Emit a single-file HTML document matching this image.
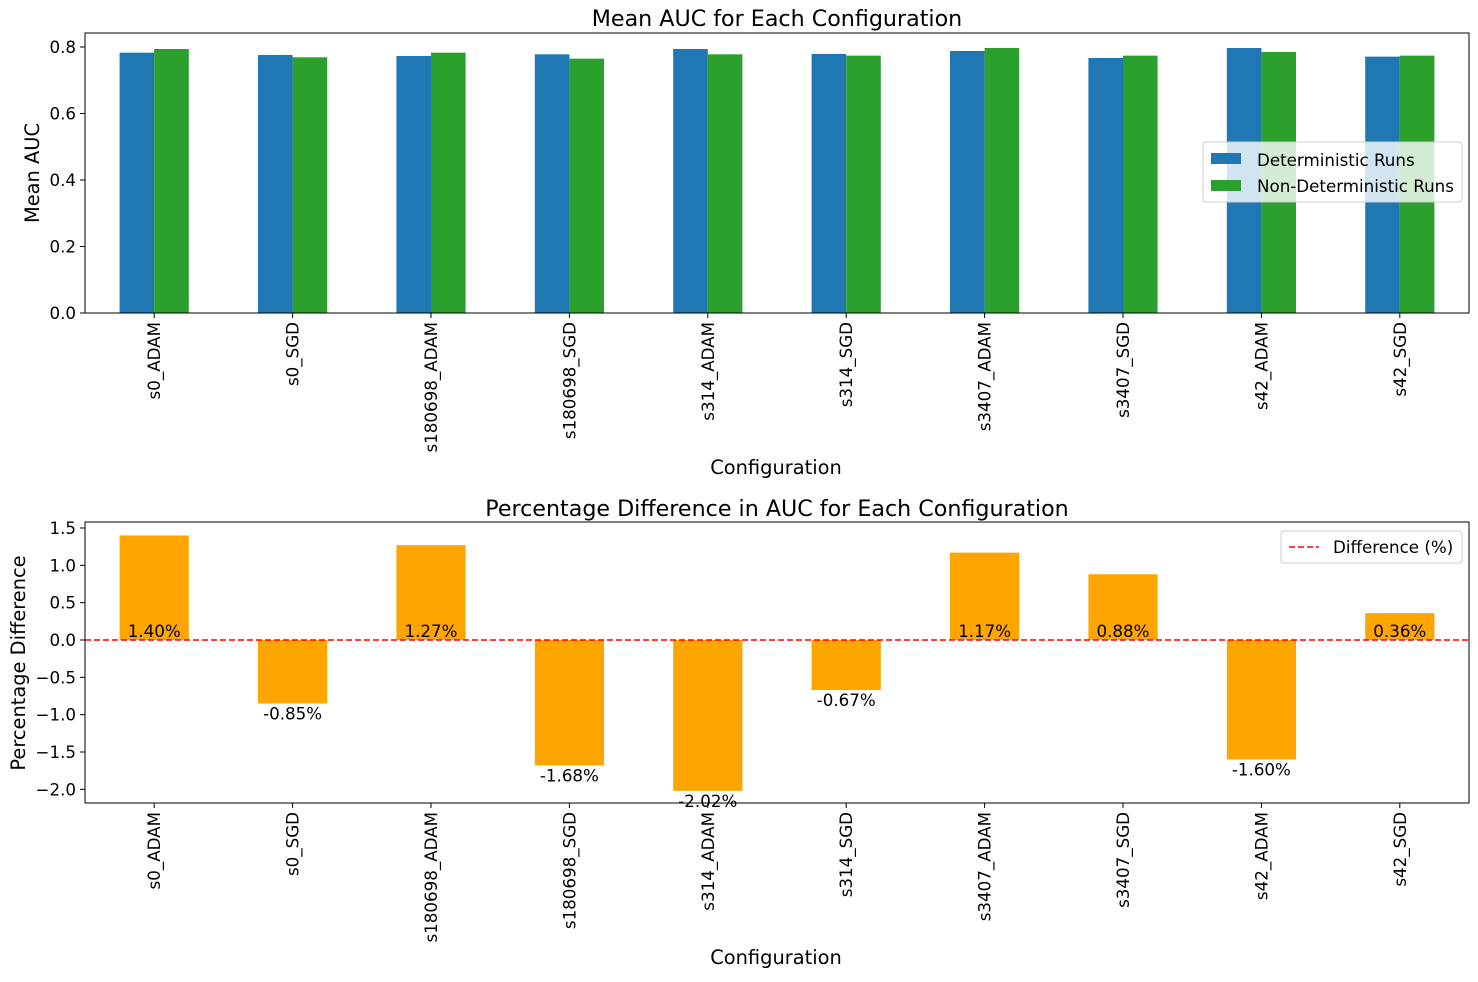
<!DOCTYPE html>
<html><head><meta charset="utf-8"><style>
body{margin:0;background:#fff}
svg{font-family:"DejaVu Sans","Liberation Sans",sans-serif}
</style></head><body>
<svg id="c" width="1478" height="977" xmlns="http://www.w3.org/2000/svg"></svg>
<script>
const categories=["s0_ADAM","s0_SGD","s180698_ADAM","s180698_SGD","s314_ADAM","s314_SGD","s3407_ADAM","s3407_SGD","s42_ADAM","s42_SGD"];
const detValues=[0.783,0.776,0.773,0.778,0.794,0.779,0.788,0.767,0.797,0.771];
const nondetValues=[0.794,0.769,0.783,0.765,0.778,0.774,0.797,0.774,0.785,0.774];
const diffValues=[1.40,-0.85,1.27,-1.68,-2.02,-0.67,1.17,0.88,-1.60,0.36];
const topTicks=[0.0,0.2,0.4,0.6,0.8];
const botTicks=[-2.0,-1.5,-1.0,-0.5,0.0,0.5,1.0,1.5];
const svg=document.getElementById('c');
const NS="http://www.w3.org/2000/svg";
function mk(t,a,txt){const e=document.createElementNS(NS,t);for(const k in a)e.setAttribute(k,a[k]);if(txt!==undefined)e.textContent=txt;svg.appendChild(e);return e;}
const L=85,R=1469,step=(R-L)/categories.length;
const xc=i=>L+step*(i+0.5);
const yTop=v=>313-v*(266/0.8);
const yBot=v=>640-v*(112/1.5);
const fmt=t=>(t<0?'\u2212':'')+Math.abs(t).toFixed(1);
const FS=16.7, FA=19.4, FT=22.2;

let e;
categories.forEach((c,i)=>{
 e=mk('rect',{x:xc(i)-34.6,y:yTop(detValues[i]),width:34.6,height:313-yTop(detValues[i]),fill:'#1f77b4'});
 
 e=mk('rect',{x:xc(i),y:yTop(nondetValues[i]),width:34.6,height:313-yTop(nondetValues[i]),fill:'#2ca02c'});
 
});
e=mk('rect',{x:L,y:33,width:R-L,height:280,fill:'none',stroke:'#000','stroke-width':1});

topTicks.forEach(t=>{const y=yTop(t);mk('line',{x1:L-5,x2:L,y1:y,y2:y,stroke:'#000'});
 e=mk('text',{x:L-9,y:y+6,'text-anchor':'end','font-size':FS},fmt(t));
 });
categories.forEach((c,i)=>{const x=xc(i);mk('line',{x1:x,x2:x,y1:313,y2:318,stroke:'#000'});
 e=mk('text',{transform:`translate(${x+6},322) rotate(-90)`,'text-anchor':'end','font-size':FS},c);
 });
e=mk('text',{x:777,y:26,'text-anchor':'middle','font-size':FT},'Mean AUC for Each Configuration');

e=mk('text',{x:776,y:474,'text-anchor':'middle','font-size':FA},'Configuration');

e=mk('text',{transform:'translate(39,173) rotate(-90)','text-anchor':'middle','font-size':FA},'Mean AUC');

e=mk('rect',{x:1203,y:142,width:259,height:60,rx:3,fill:'#fff','fill-opacity':0.8,stroke:'#ccc'});

mk('rect',{x:1211,y:153,width:30,height:11,fill:'#1f77b4'});
e=mk('text',{x:1257,y:166,'font-size':FS},'Deterministic Runs');

mk('rect',{x:1211,y:180,width:30,height:11,fill:'#2ca02c'});
e=mk('text',{x:1257,y:192,'font-size':FS},'Non-Deterministic Runs');


categories.forEach((c,i)=>{const v=diffValues[i];const y=yBot(v);
 e=mk('rect',{x:xc(i)-34.6,y:Math.min(y,yBot(0)),width:69.2,height:Math.abs(y-yBot(0)),fill:'#ffa500'});
 
});
e=mk('line',{x1:L,x2:R,y1:yBot(0),y2:yBot(0),stroke:'#f00','stroke-width':1.6,'stroke-dasharray':'6,3'});

categories.forEach((c,i)=>{const v=diffValues[i];
 const y=v>=0?yBot(0)-3:yBot(v)+16;
 e=mk('text',{x:xc(i),y:y,'text-anchor':'middle','font-size':FS},v.toFixed(2)+'%');
 });
e=mk('rect',{x:L,y:522,width:R-L,height:281,fill:'none',stroke:'#000'});

botTicks.forEach(t=>{const y=yBot(t);mk('line',{x1:L-5,x2:L,y1:y,y2:y,stroke:'#000'});
 e=mk('text',{x:L-9,y:y+6,'text-anchor':'end','font-size':FS},fmt(t));
 });
categories.forEach((c,i)=>{const x=xc(i);mk('line',{x1:x,x2:x,y1:803,y2:808,stroke:'#000'});
 e=mk('text',{transform:`translate(${x+6},812) rotate(-90)`,'text-anchor':'end','font-size':FS},c);
 });
e=mk('text',{x:777,y:516,'text-anchor':'middle','font-size':FT},'Percentage Difference in AUC for Each Configuration');

e=mk('text',{x:776,y:964,'text-anchor':'middle','font-size':FA},'Configuration');

e=mk('text',{transform:'translate(25,663) rotate(-90)','text-anchor':'middle','font-size':FA},'Percentage Difference');

e=mk('rect',{x:1281,y:531,width:181,height:32,rx:3,fill:'#fff','fill-opacity':0.8,stroke:'#ccc'});

mk('line',{x1:1289,x2:1319,y1:547,y2:547,stroke:'#f00','stroke-width':1.6,'stroke-dasharray':'6,3'});
e=mk('text',{x:1333,y:553,'font-size':FS},'Difference (%)');

</script>
</body></html>
